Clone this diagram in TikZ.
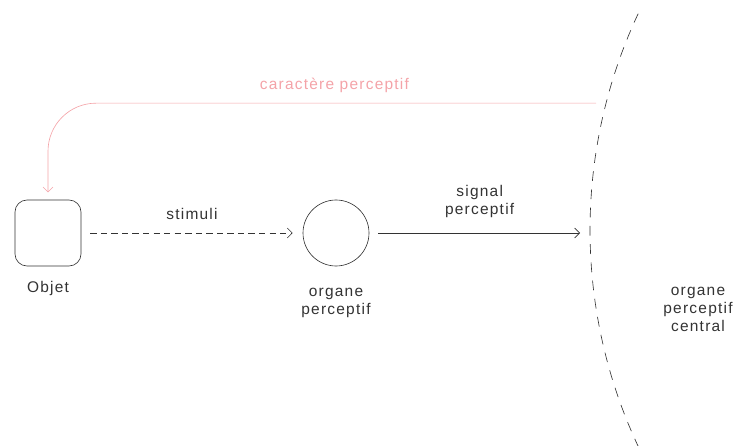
\documentclass[tikz,border=0pt]{standalone}
\usepackage{fontspec}
\setmainfont{Liberation Sans}[LetterSpace=8]
\usetikzlibrary{arrows.meta,positioning,calc}
\definecolor{rosa}{HTML}{F4A3A8}
\definecolor{ink}{HTML}{333333}
\tikzset{
objbox/.style = {draw=ink, fill=white, rectangle, rounded corners=0.3cm, minimum height=1.65cm, minimum width=1.65cm},
organ/.style = {draw=ink, fill=white, circle, minimum size=1.65cm, inner sep=0pt},
tmp/.style  = {coordinate},
txt/.style = {text=ink, font=\fontsize{11}{12.8}\selectfont, align=center},
}
\begin{document}
\begin{tikzpicture}[auto, node distance=7.2cm,>={Straight Barb[length=3.5pt,width=7pt]}, line width=0.45pt]
					\useasboundingbox (-1.2,-5.325) rectangle (17.2,5.825);
					\node[objbox] (objet) at (0,0) {};
					\node[organ, right of=objet] (organe) {};
					\node[tmp] (centre) at (26.3,0.075) {};
					\node[tmp] (hit) at (13.55,0) {};
					\node[tmp] (carhit) at ($(centre)+(165.6:12.75)$) {};
					\node[txt, below of=objet, node distance=1.4cm] (lobjet) {Objet};
					\node[txt, below of=organe, node distance=1.75cm] (lorgane) {organe\\perceptif};
					\node[txt, right of=hit, node distance=2.7cm, yshift=-1.92cm] (lcentral) {organe\\perceptif\\central};
					\draw[ink, dash pattern=on 7pt off 6pt] ($(centre)+(154.9:12.75)$) arc (154.9:205.1:12.75);
					\draw[->,ink, dash pattern=on 4.5pt off 3pt, shorten <=0.225cm, shorten >=0.25cm] (objet) -- node[txt, name=stim, yshift=0.22cm] {stimuli} (organe);
					\draw[->,ink, shorten <=0.225cm, shorten >=0.25cm] (organe) -- node[txt, name=sig, yshift=0.25cm] {signal\\perceptif} (hit);
					\draw[->,rosa, rounded corners=1.2cm, shorten <=0.25cm, shorten >=0.18cm] (carhit) -| (objet.north);
					\node[txt, text=rosa] (lcar) at (7.16,3.68) {caractère perceptif};
				\end{tikzpicture}
\end{document}
